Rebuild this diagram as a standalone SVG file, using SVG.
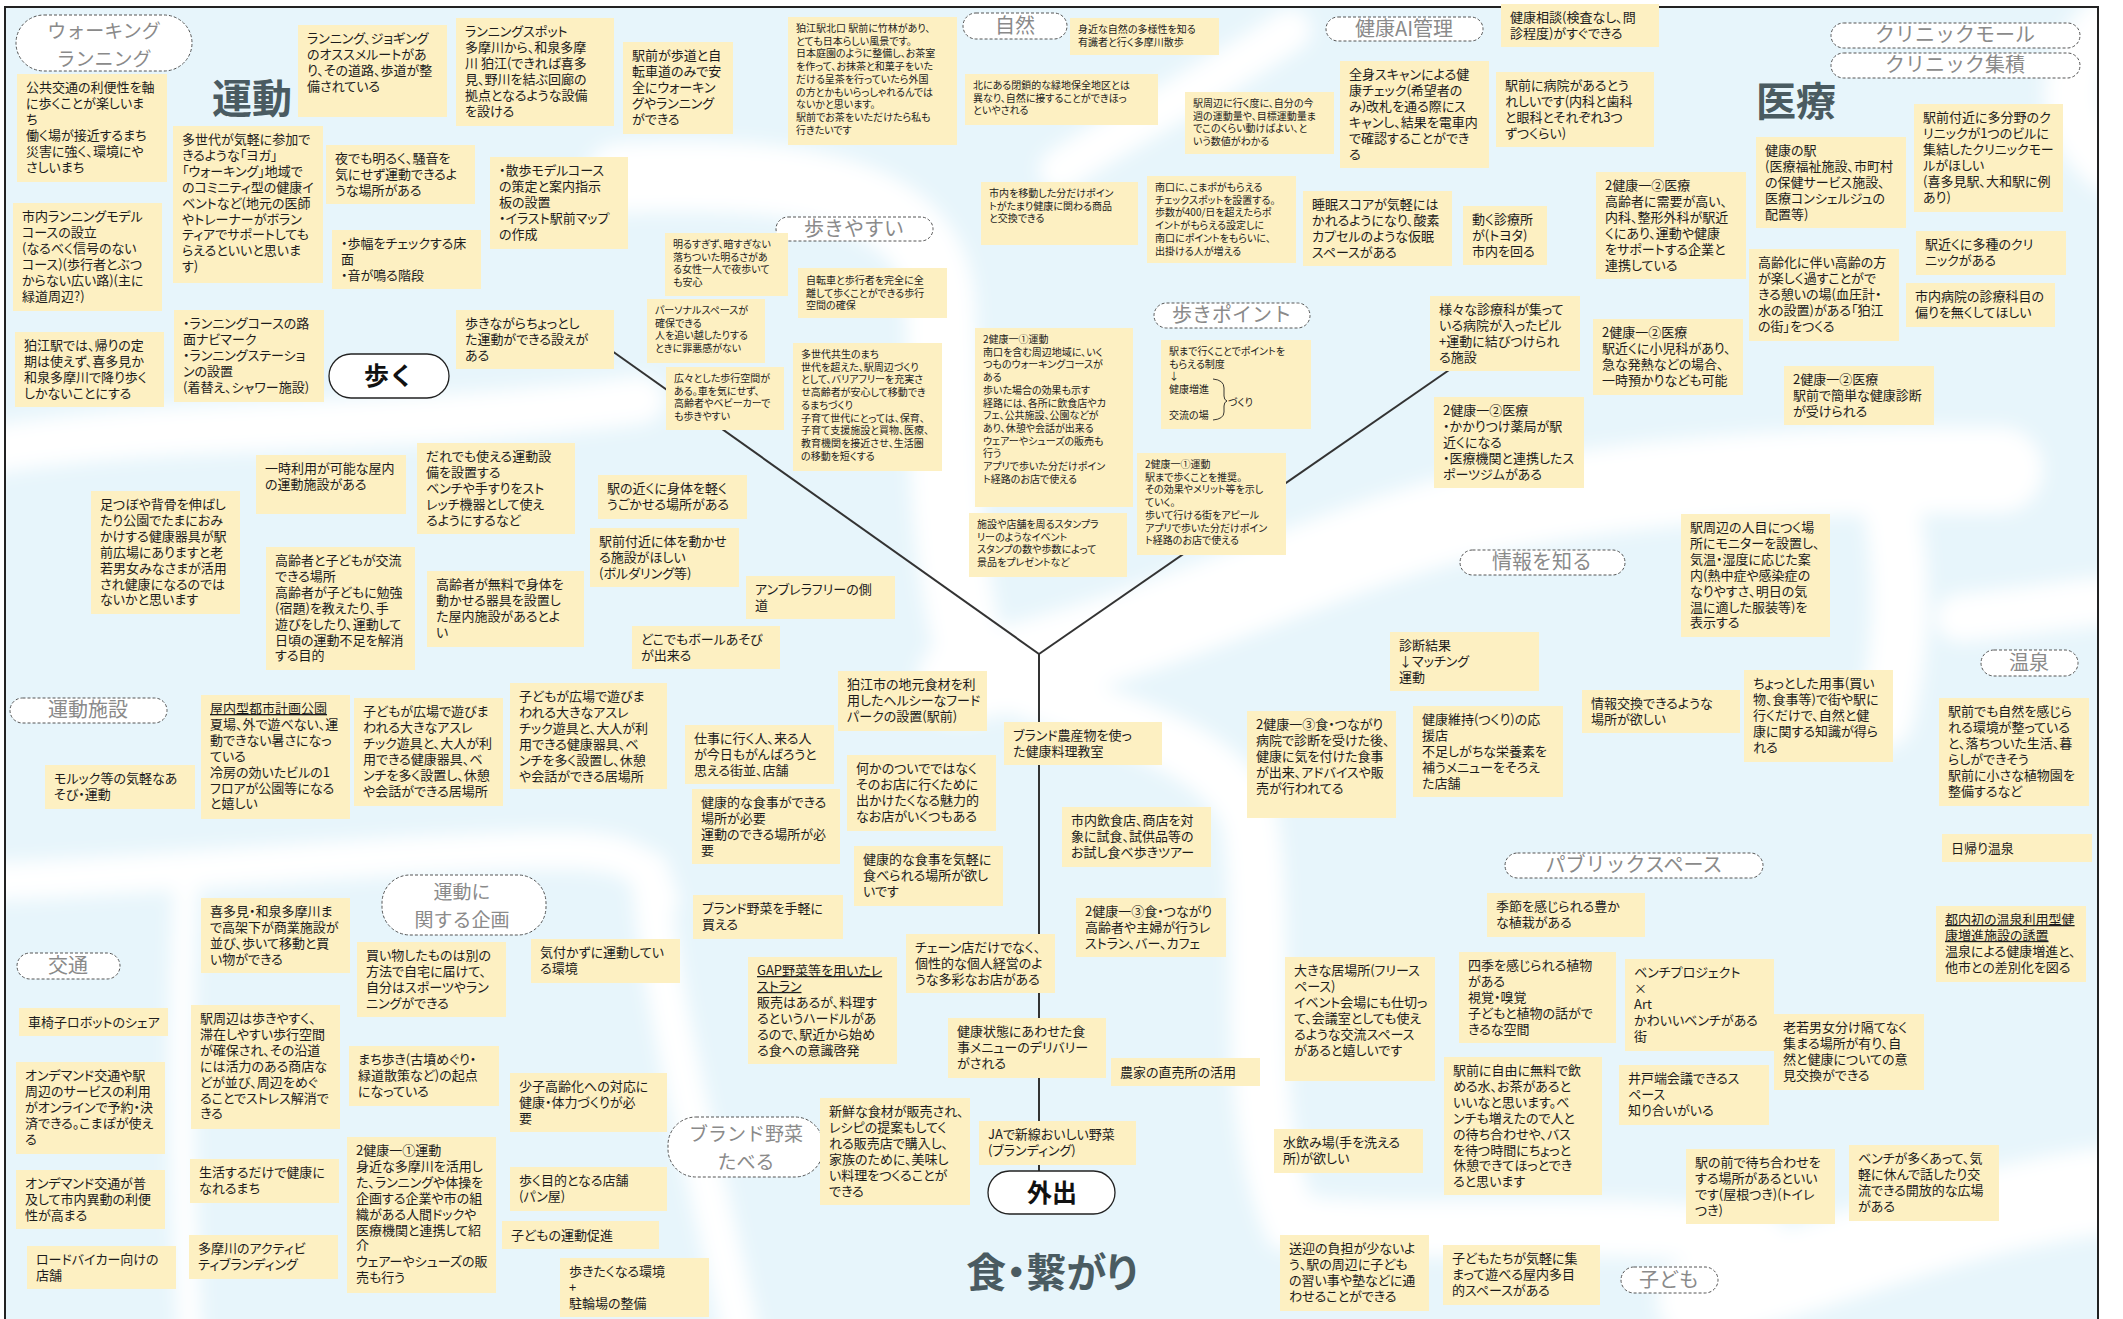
<svg xmlns="http://www.w3.org/2000/svg" width="2123" height="1319" viewBox="0 0 2123 1319">
<defs>
<style>
.note rect{fill:#fdf0c2}
.t{font-family:"Noto Sans CJK JP","Noto Sans",sans-serif;font-size:13px;fill:#1c1c1c;font-feature-settings:"palt"}
.s{font-family:"Noto Sans CJK JP","Noto Sans",sans-serif;font-size:10px;fill:#1c1c1c;font-feature-settings:"palt"}
.tag rect{fill:#fff;stroke:#555;stroke-width:1;stroke-dasharray:3 2}
.tag text{font-family:"Noto Sans CJK JP","Noto Sans",sans-serif;font-size:20px;fill:#8a8a8a;text-anchor:middle}
.tag text.two{font-size:19px}
.ttl{font-family:"Noto Sans CJK JP","Noto Sans",sans-serif;font-weight:bold;font-size:40px;fill:#4a5b61;text-anchor:middle;font-feature-settings:"palt"}
.hub rect{fill:#fff;stroke:#222;stroke-width:1.3}
.hub text{font-family:"Noto Sans CJK JP","Noto Sans",sans-serif;font-weight:bold;font-size:25px;fill:#111;text-anchor:middle}
.edge{stroke:#333;stroke-width:2;fill:none}
.u{text-decoration:underline}
</style>
<filter id="soft" x="-10%" y="-10%" width="120%" height="120%"><feGaussianBlur stdDeviation="9"/></filter>
<clipPath id="frameClip"><rect x="6" y="8" width="2091" height="1311"/></clipPath>
</defs>

<rect width="2123" height="1319" fill="#fff"/>

<!-- background wash with white streams -->
<g id="background" clip-path="url(#frameClip)">
<rect x="6" y="8" width="2091" height="1311" fill="#e7f5fb"/>
<g filter="url(#soft)" fill="none" stroke="#fff" stroke-linecap="round">
<path d="M-20 452 C150 420 400 432 640 400" stroke-width="48"/>
<path d="M620 178 C800 170 930 190 940 300 C945 400 940 520 965 630" stroke-width="70"/>
<path d="M960 680 C1150 640 1300 560 1450 520 C1600 480 1800 470 2000 470" stroke-width="86"/>
<path d="M1885 480 C1905 560 1905 640 1885 720" stroke-width="56"/>
<path d="M1000 680 C1100 720 1220 740 1250 820 C1270 950 1240 1100 1290 1222 C1400 1240 1600 1215 1760 1240" stroke-width="56"/>
<path d="M650 870 C660 1000 700 1150 740 1330" stroke-width="38"/>
<path d="M-10 882 C200 872 400 852 560 850 C620 850 650 860 660 900" stroke-width="38"/>
<path d="M186 890 C180 1000 180 1150 190 1330" stroke-width="24"/>
<path d="M1960 618 C2020 612 2070 604 2110 600" stroke-width="48"/>
<path d="M1700 1300 C1850 1260 1950 1210 2110 1190" stroke-width="86"/>
<path d="M2110 20 C2065 60 2055 120 2110 165" stroke-width="56"/>
<path d="M1290 30 C1200 90 1120 130 1060 170" stroke-width="42"/>
</g>
</g>

<!-- frame -->
<path d="M5 1319 V7 H2098 V1319" fill="none" stroke="#222" stroke-width="2"/>

<!-- connectors -->
<g id="connectors">
<path class="edge" d="M605 346 L1039 654"/>
<path class="edge" d="M1039 654 L1452 368"/>
<path class="edge" d="M1039 654 L1039 1172"/>
</g>

<!-- category titles -->
<text id="title-undou" class="ttl" x="252" y="113">運動</text>
<text id="title-iryou" class="ttl" x="1796" y="116">医療</text>
<text id="title-shoku" class="ttl" x="1052" y="1287">食・繋がり</text>

<!-- hubs -->
<g id="hub-aruku" class="hub"><rect x="329" y="354" width="120" height="44" rx="22"/><text x="389" y="385">歩く</text></g>
<g id="hub-gaishutsu" class="hub"><rect x="988" y="1171" width="127" height="43" rx="21.5"/><text x="1052" y="1202">外出</text></g>

<!-- tags -->
<g id="tag-walking" class="tag"><rect x="16" y="15" width="176" height="56" rx="28"/><text class="two" x="104" y="38">ウォーキング</text><text class="two" x="104" y="66">ランニング</text></g>
<g id="tag-shizen" class="tag"><rect x="963" y="13" width="104" height="26" rx="13"/><text x="1015" y="33">自然</text></g>
<g id="tag-ai" class="tag"><rect x="1326" y="17" width="157" height="24" rx="12"/><text x="1404" y="36">健康AI管理</text></g>
<g id="tag-mall" class="tag"><rect x="1831" y="23" width="249" height="25" rx="12.5"/><text x="1955" y="42">クリニックモール</text></g>
<g id="tag-shuseki" class="tag"><rect x="1831" y="53" width="249" height="25" rx="12.5"/><text x="1955" y="72">クリニック集積</text></g>
<g id="tag-aruki" class="tag"><rect x="776" y="217" width="157" height="24" rx="12"/><text x="854" y="236">歩きやすい</text></g>
<g id="tag-point" class="tag"><rect x="1154" y="303" width="156" height="25" rx="12.5"/><text x="1232" y="322">歩きポイント</text></g>
<g id="tag-joho" class="tag"><rect x="1460" y="550" width="165" height="25" rx="12.5"/><text x="1542" y="569">情報を知る</text></g>
<g id="tag-onsen" class="tag"><rect x="1981" y="650" width="97" height="26" rx="13"/><text x="2029" y="670">温泉</text></g>
<g id="tag-shisetsu" class="tag"><rect x="10" y="698" width="157" height="25" rx="12.5"/><text x="88" y="717">運動施設</text></g>
<g id="tag-kikaku" class="tag"><rect x="382" y="875" width="164" height="60" rx="28"/><text class="two" x="462" y="899">運動に</text><text class="two" x="462" y="927">関する企画</text></g>
<g id="tag-public" class="tag"><rect x="1505" y="853" width="258" height="25" rx="12.5"/><text x="1634" y="872">パブリックスペース</text></g>
<g id="tag-koutsu" class="tag"><rect x="17" y="953" width="103" height="26" rx="13"/><text x="68" y="973">交通</text></g>
<g id="tag-brand" class="tag"><rect x="668" y="1117" width="155" height="60" rx="28"/><text class="two" x="746" y="1141">ブランド野菜</text><text class="two" x="746" y="1169">たべる</text></g>
<g id="tag-kodomo" class="tag"><rect x="1621" y="1267" width="97" height="26" rx="13"/><text x="1669" y="1287">子ども</text></g>

<!-- notes: 運動 -->
<g id="n01" class="note"><rect x="17" y="74" width="150" height="108"/><text class="t" x="26" y="92"><tspan x="26">公共交通の利便性を軸</tspan><tspan x="26" dy="15.9">に歩くことが楽しいま</tspan><tspan x="26" dy="15.9">ち</tspan><tspan x="26" dy="15.9">働く場が接近するまち</tspan><tspan x="26" dy="15.9">災害に強く、環境にや</tspan><tspan x="26" dy="15.9">さしいまち</tspan></text></g>
<g id="n02" class="note"><rect x="298" y="25" width="149" height="92"/><text class="t" x="307" y="43"><tspan x="307">ランニング、ジョギング</tspan><tspan x="307" dy="15.9">のオススメルートがあ</tspan><tspan x="307" dy="15.9">り、その道路、歩道が整</tspan><tspan x="307" dy="15.9">備されている</tspan></text></g>
<g id="n03" class="note"><rect x="456" y="18" width="158" height="108"/><text class="t" x="465" y="36"><tspan x="465">ランニングスポット</tspan><tspan x="465" dy="15.9">多摩川から、和泉多摩</tspan><tspan x="465" dy="15.9">川 狛江(できれば喜多</tspan><tspan x="465" dy="15.9">見、野川を結ぶ回廊の</tspan><tspan x="465" dy="15.9">拠点となるような設備</tspan><tspan x="465" dy="15.9">を設ける</tspan></text></g>
<g id="n04" class="note"><rect x="623" y="42" width="110" height="92"/><text class="t" x="632" y="60"><tspan x="632">駅前が歩道と自</tspan><tspan x="632" dy="15.9">転車道のみで安</tspan><tspan x="632" dy="15.9">全にウォーキン</tspan><tspan x="632" dy="15.9">グやランニング</tspan><tspan x="632" dy="15.9">ができる</tspan></text></g>
<g id="n05" class="note"><rect x="173" y="126" width="150" height="157"/><text class="t" x="182" y="144"><tspan x="182">多世代が気軽に参加で</tspan><tspan x="182" dy="15.9">きるような「ヨガ」</tspan><tspan x="182" dy="15.9">「ウォーキング」地域で</tspan><tspan x="182" dy="15.9">のコミニティ型の健康イ</tspan><tspan x="182" dy="15.9">ベントなど(地元の医師</tspan><tspan x="182" dy="15.9">やトレーナーがボラン</tspan><tspan x="182" dy="15.9">ティアでサポートしても</tspan><tspan x="182" dy="15.9">らえるといいと思いま</tspan><tspan x="182" dy="15.9">す)</tspan></text></g>
<g id="n06" class="note"><rect x="326" y="145" width="149" height="59"/><text class="t" x="335" y="163"><tspan x="335">夜でも明るく、騒音を</tspan><tspan x="335" dy="15.9">気にせず運動できるよ</tspan><tspan x="335" dy="15.9">うな場所がある</tspan></text></g>
<g id="n07" class="note"><rect x="332" y="230" width="149" height="59"/><text class="t" x="341" y="248"><tspan x="341">・歩幅をチェックする床</tspan><tspan x="341" dy="15.9">面</tspan><tspan x="341" dy="15.9">・音が鳴る階段</tspan></text></g>
<g id="n08" class="note"><rect x="490" y="157" width="138" height="92"/><text class="t" x="499" y="175"><tspan x="499">・散歩モデルコース</tspan><tspan x="499" dy="15.9">の策定と案内指示</tspan><tspan x="499" dy="15.9">板の設置</tspan><tspan x="499" dy="15.9">・イラスト駅前マップ</tspan><tspan x="499" dy="15.9">の作成</tspan></text></g>
<g id="n09" class="note"><rect x="13" y="203" width="149" height="108"/><text class="t" x="22" y="221"><tspan x="22">市内ランニングモデル</tspan><tspan x="22" dy="15.9">コースの設立</tspan><tspan x="22" dy="15.9">(なるべく信号のない</tspan><tspan x="22" dy="15.9">コース)(歩行者とぶつ</tspan><tspan x="22" dy="15.9">からない広い路)(主に</tspan><tspan x="22" dy="15.9">緑道周辺?)</tspan></text></g>
<g id="n10" class="note"><rect x="15" y="332" width="149" height="75"/><text class="t" x="24" y="350"><tspan x="24">狛江駅では、帰りの定</tspan><tspan x="24" dy="15.9">期は使えず、喜多見か</tspan><tspan x="24" dy="15.9">和泉多摩川で降り歩く</tspan><tspan x="24" dy="15.9">しかないことにする</tspan></text></g>
<g id="n11" class="note"><rect x="174" y="310" width="150" height="92"/><text class="t" x="183" y="328"><tspan x="183">・ランニングコースの路</tspan><tspan x="183" dy="15.9">面ナビマーク</tspan><tspan x="183" dy="15.9">・ランニングステーショ</tspan><tspan x="183" dy="15.9">ンの設置</tspan><tspan x="183" dy="15.9">(着替え、シャワー施設)</tspan></text></g>
<g id="n12" class="note"><rect x="456" y="310" width="158" height="59"/><text class="t" x="465" y="328"><tspan x="465">歩きながらちょっとし</tspan><tspan x="465" dy="15.9">た運動ができる設えが</tspan><tspan x="465" dy="15.9">ある</tspan></text></g>
<g id="n13" class="note"><rect x="256" y="455" width="150" height="59"/><text class="t" x="265" y="473"><tspan x="265">一時利用が可能な屋内</tspan><tspan x="265" dy="15.9">の運動施設がある</tspan></text></g>
<g id="n14" class="note"><rect x="91" y="491" width="149" height="123"/><text class="t" x="100" y="509"><tspan x="100">足つぼや背骨を伸ばし</tspan><tspan x="100" dy="15.9">たり公園でたまにおみ</tspan><tspan x="100" dy="15.9">かけする健康器具が駅</tspan><tspan x="100" dy="15.9">前広場にありますと老</tspan><tspan x="100" dy="15.9">若男女みなさまが活用</tspan><tspan x="100" dy="15.9">され健康になるのでは</tspan><tspan x="100" dy="15.9">ないかと思います</tspan></text></g>
<g id="n15" class="note"><rect x="417" y="443" width="158" height="91"/><text class="t" x="426" y="461"><tspan x="426">だれでも使える運動設</tspan><tspan x="426" dy="15.9">備を設置する</tspan><tspan x="426" dy="15.9">ベンチや手すりをスト</tspan><tspan x="426" dy="15.9">レッチ機器として使え</tspan><tspan x="426" dy="15.9">るようにするなど</tspan></text></g>
<g id="n16" class="note"><rect x="266" y="547" width="149" height="123"/><text class="t" x="275" y="565"><tspan x="275">高齢者と子どもが交流</tspan><tspan x="275" dy="15.9">できる場所</tspan><tspan x="275" dy="15.9">高齢者が子どもに勉強</tspan><tspan x="275" dy="15.9">(宿題)を教えたり、手</tspan><tspan x="275" dy="15.9">遊びをしたり、運動して</tspan><tspan x="275" dy="15.9">日頃の運動不足を解消</tspan><tspan x="275" dy="15.9">する目的</tspan></text></g>
<g id="n17" class="note"><rect x="427" y="571" width="157" height="76"/><text class="t" x="436" y="589"><tspan x="436">高齢者が無料で身体を</tspan><tspan x="436" dy="15.9">動かせる器具を設置し</tspan><tspan x="436" dy="15.9">た屋内施設があるとよ</tspan><tspan x="436" dy="15.9">い</tspan></text></g>
<g id="n18" class="note"><rect x="598" y="475" width="149" height="44"/><text class="t" x="607" y="493"><tspan x="607">駅の近くに身体を軽く</tspan><tspan x="607" dy="15.9">うごかせる場所がある</tspan></text></g>
<g id="n19" class="note"><rect x="590" y="528" width="149" height="59"/><text class="t" x="599" y="546"><tspan x="599">駅前付近に体を動かせ</tspan><tspan x="599" dy="15.9">る施設がほしい</tspan><tspan x="599" dy="15.9">(ボルダリング等)</tspan></text></g>
<g id="n20" class="note"><rect x="746" y="576" width="149" height="43"/><text class="t" x="755" y="594"><tspan x="755">アンブレラフリーの側</tspan><tspan x="755" dy="15.9">道</tspan></text></g>
<g id="n21" class="note"><rect x="632" y="626" width="148" height="43"/><text class="t" x="641" y="644"><tspan x="641">どこでもボールあそび</tspan><tspan x="641" dy="15.9">が出来る</tspan></text></g>
<g id="n22" class="note"><rect x="45" y="765" width="150" height="44"/><text class="t" x="54" y="783"><tspan x="54">モルック等の気軽なあ</tspan><tspan x="54" dy="15.9">そび・運動</tspan></text></g>
<g id="n23" class="note"><rect x="201" y="695" width="149" height="124"/><text class="t" x="210" y="713"><tspan x="210" class="u">屋内型都市計画公園</tspan><tspan x="210" dy="15.9">夏場、外で遊べない、運</tspan><tspan x="210" dy="15.9">動できない暑さになっ</tspan><tspan x="210" dy="15.9">ている</tspan><tspan x="210" dy="15.9">冷房の効いたビルの1</tspan><tspan x="210" dy="15.9">フロアが公園等になる</tspan><tspan x="210" dy="15.9">と嬉しい</tspan></text></g>
<g id="n24" class="note"><rect x="354" y="698" width="149" height="108"/><text class="t" x="363" y="716"><tspan x="363">子どもが広場で遊びま</tspan><tspan x="363" dy="15.9">われる大きなアスレ</tspan><tspan x="363" dy="15.9">チック遊具と、大人が利</tspan><tspan x="363" dy="15.9">用できる健康器具、ベ</tspan><tspan x="363" dy="15.9">ンチを多く設置し、休憩</tspan><tspan x="363" dy="15.9">や会話ができる居場所</tspan></text></g>
<g id="n25" class="note"><rect x="510" y="683" width="157" height="106"/><text class="t" x="519" y="701"><tspan x="519">子どもが広場で遊びま</tspan><tspan x="519" dy="15.9">われる大きなアスレ</tspan><tspan x="519" dy="15.9">チック遊具と、大人が利</tspan><tspan x="519" dy="15.9">用できる健康器具、ベ</tspan><tspan x="519" dy="15.9">ンチを多く設置し、休憩</tspan><tspan x="519" dy="15.9">や会話ができる居場所</tspan></text></g>

<!-- notes: 歩きやすい / 自然 / 歩きポイント (small print) -->
<g id="n26" class="note"><rect x="665" y="233" width="123" height="63"/><text class="s" x="673" y="248"><tspan x="673">明るすぎず、暗すぎない</tspan><tspan x="673" dy="12.7">落ちついた明るさがあ</tspan><tspan x="673" dy="12.7">る女性一人で夜歩いて</tspan><tspan x="673" dy="12.7">も安心</tspan></text></g>
<g id="n27" class="note"><rect x="647" y="299" width="118" height="64"/><text class="s" x="655" y="314"><tspan x="655">パーソナルスペースが</tspan><tspan x="655" dy="12.7">確保できる</tspan><tspan x="655" dy="12.7">人を追い越したりする</tspan><tspan x="655" dy="12.7">ときに罪悪感がない</tspan></text></g>
<g id="n28" class="note"><rect x="666" y="367" width="118" height="63"/><text class="s" x="674" y="382"><tspan x="674">広々とした歩行空間が</tspan><tspan x="674" dy="12.7">ある。車を気にせず、</tspan><tspan x="674" dy="12.7">高齢者やベビーカーで</tspan><tspan x="674" dy="12.7">も歩きやすい</tspan></text></g>
<g id="n29" class="note"><rect x="798" y="268" width="149" height="50"/><text class="s" x="806" y="284"><tspan x="806">自転車と歩行者を完全に全</tspan><tspan x="806" dy="12.7">離して歩くことができる歩行</tspan><tspan x="806" dy="12.7">空間の確保</tspan></text></g>
<g id="n30" class="note"><rect x="793" y="343" width="149" height="128"/><text class="s" x="801" y="358"><tspan x="801">多世代共生のまち</tspan><tspan x="801" dy="12.7">世代を超えた、駅周辺づくり</tspan><tspan x="801" dy="12.7">として、バリアフリーを充実さ</tspan><tspan x="801" dy="12.7">せ高齢者が安心して移動でき</tspan><tspan x="801" dy="12.7">るまちづくり</tspan><tspan x="801" dy="12.7">子育て世代にとっては、保育、</tspan><tspan x="801" dy="12.7">子育て支援施設と買物、医療、</tspan><tspan x="801" dy="12.7">教育機関を接近させ、生活圏</tspan><tspan x="801" dy="12.7">の移動を短くする</tspan></text></g>
<g id="n31" class="note"><rect x="788" y="17" width="169" height="128"/><text class="s" x="796" y="32"><tspan x="796">狛江駅北口 駅前に竹林があり、</tspan><tspan x="796" dy="12.7">とても日本らしい風景です。</tspan><tspan x="796" dy="12.7">日本庭園のように整備し、お茶室</tspan><tspan x="796" dy="12.7">を作って、お抹茶と和菓子をいた</tspan><tspan x="796" dy="12.7">だける呈茶を行っていたら外国</tspan><tspan x="796" dy="12.7">の方とかもいらっしゃれるんでは</tspan><tspan x="796" dy="12.7">ないかと思います。</tspan><tspan x="796" dy="12.7">駅前でお茶をいただけたら私も</tspan><tspan x="796" dy="12.7">行きたいです</tspan></text></g>
<g id="n32" class="note"><rect x="965" y="74" width="193" height="51"/><text class="s" x="973" y="89"><tspan x="973">北にある閉鎖的な緑地保全地区とは</tspan><tspan x="973" dy="12.7">異なり、自然に接することができほっ</tspan><tspan x="973" dy="12.7">といやされる</tspan></text></g>
<g id="n33" class="note"><rect x="1070" y="18" width="149" height="37"/><text class="s" x="1078" y="33"><tspan x="1078">身近な自然の多様性を知る</tspan><tspan x="1078" dy="12.7">有識者と行く多摩川散歩</tspan></text></g>
<g id="n34" class="note"><rect x="981" y="182" width="157" height="63"/><text class="s" x="989" y="197"><tspan x="989">市内を移動した分だけポイン</tspan><tspan x="989" dy="12.7">トがたまり健康に関わる商品</tspan><tspan x="989" dy="12.7">と交換できる</tspan></text></g>
<g id="n35" class="note"><rect x="975" y="328" width="158" height="179"/><text class="s" x="983" y="343"><tspan x="983">2健康一①運動</tspan><tspan x="983" dy="12.7">南口を含む周辺地域に、いく</tspan><tspan x="983" dy="12.7">つものウォーキングコースが</tspan><tspan x="983" dy="12.7">ある</tspan><tspan x="983" dy="12.7">歩いた場合の効果も示す</tspan><tspan x="983" dy="12.7">経路には、各所に飲食店やカ</tspan><tspan x="983" dy="12.7">フェ、公共施設、公園などが</tspan><tspan x="983" dy="12.7">あり、休憩や会話が出来る</tspan><tspan x="983" dy="12.7">ウェアーやシューズの販売も</tspan><tspan x="983" dy="12.7">行う</tspan><tspan x="983" dy="12.7">アプリで歩いた分だけポイン</tspan><tspan x="983" dy="12.7">ト経路のお店で使える</tspan></text></g>
<g id="n36" class="note"><rect x="969" y="513" width="158" height="64"/><text class="s" x="977" y="528"><tspan x="977">施設や店舗を周るスタンプラ</tspan><tspan x="977" dy="12.7">リーのようなイベント</tspan><tspan x="977" dy="12.7">スタンプの数や歩数によって</tspan><tspan x="977" dy="12.7">景品をプレゼントなど</tspan></text></g>
<g id="n37" class="note"><rect x="1185" y="92" width="149" height="62"/><text class="s" x="1193" y="107"><tspan x="1193">駅周辺に行く度に、自分の今</tspan><tspan x="1193" dy="12.7">週の運動量や、目標運動量ま</tspan><tspan x="1193" dy="12.7">でこのくらい動けばよい、と</tspan><tspan x="1193" dy="12.7">いう数値がわかる</tspan></text></g>
<g id="n38" class="note"><rect x="1147" y="176" width="149" height="87"/><text class="s" x="1155" y="191"><tspan x="1155">南口に、こまポがもらえる</tspan><tspan x="1155" dy="12.7">チェックスポットを設置する。</tspan><tspan x="1155" dy="12.7">歩数が400/日を超えたらポ</tspan><tspan x="1155" dy="12.7">イントがもらえる設定しに</tspan><tspan x="1155" dy="12.7">南口にポイントをもらいに、</tspan><tspan x="1155" dy="12.7">出掛ける人が増える</tspan></text></g>
<g id="n39" class="note"><rect x="1161" y="340" width="150" height="89"/><text class="s" x="1169" y="355"><tspan x="1169">駅まで行くことでポイントを</tspan><tspan x="1169" dy="12.7">もらえる制度</tspan><tspan x="1169" dy="12.7">↓</tspan><tspan x="1169" y="393">健康増進</tspan><tspan x="1169" y="419">交流の場</tspan><tspan x="1228" y="406">づくり</tspan></text><path d="M1213 379 Q1224 380 1224 388 L1224 396 Q1224 400 1227 401 Q1224 402 1224 406 L1224 412 Q1224 419 1213 420" fill="none" stroke="#222" stroke-width="0.9"/></g>
<g id="n40" class="note"><rect x="1137" y="453" width="149" height="102"/><text class="s" x="1145" y="468"><tspan x="1145">2健康一①運動</tspan><tspan x="1145" dy="12.7">駅まで歩くことを推奨。</tspan><tspan x="1145" dy="12.7">その効果やメリット等を示し</tspan><tspan x="1145" dy="12.7">ていく。</tspan><tspan x="1145" dy="12.7">歩いて行ける街をアピール</tspan><tspan x="1145" dy="12.7">アプリで歩いた分だけポイン</tspan><tspan x="1145" dy="12.7">ト経路のお店で使える</tspan></text></g>

<!-- notes: 医療 / 健康AI管理 -->
<g id="n41" class="note"><rect x="1501" y="4" width="158" height="43"/><text class="t" x="1510" y="22"><tspan x="1510">健康相談(検査なし、問</tspan><tspan x="1510" dy="15.9">診程度)がすぐできる</tspan></text></g>
<g id="n42" class="note"><rect x="1340" y="61" width="149" height="107"/><text class="t" x="1349" y="79"><tspan x="1349">全身スキャンによる健</tspan><tspan x="1349" dy="15.9">康チェック(希望者の</tspan><tspan x="1349" dy="15.9">み)改札を通る際にス</tspan><tspan x="1349" dy="15.9">キャンし、結果を電車内</tspan><tspan x="1349" dy="15.9">で確認することができ</tspan><tspan x="1349" dy="15.9">る</tspan></text></g>
<g id="n43" class="note"><rect x="1496" y="72" width="158" height="75"/><text class="t" x="1505" y="90"><tspan x="1505">駅前に病院があるとう</tspan><tspan x="1505" dy="15.9">れしいです(内科と歯科</tspan><tspan x="1505" dy="15.9">と眼科とそれぞれ3つ</tspan><tspan x="1505" dy="15.9">ずつくらい)</tspan></text></g>
<g id="n44" class="note"><rect x="1303" y="191" width="149" height="75"/><text class="t" x="1312" y="209"><tspan x="1312">睡眠スコアが気軽には</tspan><tspan x="1312" dy="15.9">かれるようになり、酸素</tspan><tspan x="1312" dy="15.9">カプセルのような仮眠</tspan><tspan x="1312" dy="15.9">スペースがある</tspan></text></g>
<g id="n45" class="note"><rect x="1463" y="206" width="84" height="59"/><text class="t" x="1472" y="224"><tspan x="1472">動く診療所</tspan><tspan x="1472" dy="15.9">が(トヨタ)</tspan><tspan x="1472" dy="15.9">市内を回る</tspan></text></g>
<g id="n46" class="note"><rect x="1430" y="296" width="150" height="75"/><text class="t" x="1439" y="314"><tspan x="1439">様々な診療科が集って</tspan><tspan x="1439" dy="15.9">いる病院が入ったビル</tspan><tspan x="1439" dy="15.9">+運動に結びつけられ</tspan><tspan x="1439" dy="15.9">る施設</tspan></text></g>
<g id="n47" class="note"><rect x="1434" y="397" width="150" height="91"/><text class="t" x="1443" y="415"><tspan x="1443">2健康一②医療</tspan><tspan x="1443" dy="15.9">・かかりつけ薬局が駅</tspan><tspan x="1443" dy="15.9">近くになる</tspan><tspan x="1443" dy="15.9">・医療機関と連携したス</tspan><tspan x="1443" dy="15.9">ポーツジムがある</tspan></text></g>
<g id="n48" class="note"><rect x="1914" y="104" width="149" height="108"/><text class="t" x="1923" y="122"><tspan x="1923">駅前付近に多分野のク</tspan><tspan x="1923" dy="15.9">リニックが1つのビルに</tspan><tspan x="1923" dy="15.9">集結したクリニックモー</tspan><tspan x="1923" dy="15.9">ルがほしい</tspan><tspan x="1923" dy="15.9">(喜多見駅、大和駅に例</tspan><tspan x="1923" dy="15.9">あり)</tspan></text></g>
<g id="n49" class="note"><rect x="1756" y="137" width="150" height="91"/><text class="t" x="1765" y="155"><tspan x="1765">健康の駅</tspan><tspan x="1765" dy="15.9">(医療福祉施設、市町村</tspan><tspan x="1765" dy="15.9">の保健サービス施設、</tspan><tspan x="1765" dy="15.9">医療コンシェルジュの</tspan><tspan x="1765" dy="15.9">配置等)</tspan></text></g>
<g id="n50" class="note"><rect x="1596" y="172" width="150" height="107"/><text class="t" x="1605" y="190"><tspan x="1605">2健康一②医療</tspan><tspan x="1605" dy="15.9">高齢者に需要が高い、</tspan><tspan x="1605" dy="15.9">内科、整形外科が駅近</tspan><tspan x="1605" dy="15.9">くにあり、運動や健康</tspan><tspan x="1605" dy="15.9">をサポートする企業と</tspan><tspan x="1605" dy="15.9">連携している</tspan></text></g>
<g id="n51" class="note"><rect x="1916" y="231" width="150" height="44"/><text class="t" x="1925" y="249"><tspan x="1925">駅近くに多種のクリ</tspan><tspan x="1925" dy="15.9">ニックがある</tspan></text></g>
<g id="n52" class="note"><rect x="1749" y="249" width="150" height="92"/><text class="t" x="1758" y="267"><tspan x="1758">高齢化に伴い高齢の方</tspan><tspan x="1758" dy="15.9">が楽しく過すことがで</tspan><tspan x="1758" dy="15.9">きる憩いの場(血圧計・</tspan><tspan x="1758" dy="15.9">水の設置)がある「狛江</tspan><tspan x="1758" dy="15.9">の街」をつくる</tspan></text></g>
<g id="n53" class="note"><rect x="1906" y="283" width="149" height="44"/><text class="t" x="1915" y="301"><tspan x="1915">市内病院の診療科目の</tspan><tspan x="1915" dy="15.9">偏りを無くしてほしい</tspan></text></g>
<g id="n54" class="note"><rect x="1593" y="319" width="150" height="76"/><text class="t" x="1602" y="337"><tspan x="1602">2健康一②医療</tspan><tspan x="1602" dy="15.9">駅近くに小児科があり、</tspan><tspan x="1602" dy="15.9">急な発熱などの場合、</tspan><tspan x="1602" dy="15.9">一時預かりなども可能</tspan></text></g>
<g id="n55" class="note"><rect x="1784" y="366" width="150" height="59"/><text class="t" x="1793" y="384"><tspan x="1793">2健康一②医療</tspan><tspan x="1793" dy="15.9">駅前で簡単な健康診断</tspan><tspan x="1793" dy="15.9">が受けられる</tspan></text></g>

<!-- notes: 情報を知る / 温泉 -->
<g id="n56" class="note"><rect x="1681" y="514" width="149" height="123"/><text class="t" x="1690" y="532"><tspan x="1690">駅周辺の人目につく場</tspan><tspan x="1690" dy="15.9">所にモニターを設置し、</tspan><tspan x="1690" dy="15.9">気温・湿度に応じた案</tspan><tspan x="1690" dy="15.9">内(熱中症や感染症の</tspan><tspan x="1690" dy="15.9">なりやすさ、明日の気</tspan><tspan x="1690" dy="15.9">温に適した服装等)を</tspan><tspan x="1690" dy="15.9">表示する</tspan></text></g>
<g id="n57" class="note"><rect x="1390" y="632" width="149" height="59"/><text class="t" x="1399" y="650"><tspan x="1399">診断結果</tspan><tspan x="1399" dy="15.9">↓マッチング</tspan><tspan x="1399" dy="15.9">運動</tspan></text></g>
<g id="n58" class="note"><rect x="1582" y="690" width="158" height="43"/><text class="t" x="1591" y="708"><tspan x="1591">情報交換できるような</tspan><tspan x="1591" dy="15.9">場所が欲しい</tspan></text></g>
<g id="n59" class="note"><rect x="1744" y="670" width="149" height="92"/><text class="t" x="1753" y="688"><tspan x="1753">ちょっとした用事(買い</tspan><tspan x="1753" dy="15.9">物、食事等)で街や駅に</tspan><tspan x="1753" dy="15.9">行くだけで、自然と健</tspan><tspan x="1753" dy="15.9">康に関する知識が得ら</tspan><tspan x="1753" dy="15.9">れる</tspan></text></g>
<g id="n60" class="note"><rect x="1247" y="711" width="149" height="107"/><text class="t" x="1256" y="729"><tspan x="1256">2健康一③食・つながり</tspan><tspan x="1256" dy="15.9">病院で診断を受けた後、</tspan><tspan x="1256" dy="15.9">健康に気を付けた食事</tspan><tspan x="1256" dy="15.9">が出来、アドバイスや販</tspan><tspan x="1256" dy="15.9">売が行われてる</tspan></text></g>
<g id="n61" class="note"><rect x="1413" y="706" width="150" height="91"/><text class="t" x="1422" y="724"><tspan x="1422">健康維持(つくり)の応</tspan><tspan x="1422" dy="15.9">援店</tspan><tspan x="1422" dy="15.9">不足しがちな栄養素を</tspan><tspan x="1422" dy="15.9">補うメニューをそろえ</tspan><tspan x="1422" dy="15.9">た店舗</tspan></text></g>
<g id="n62" class="note"><rect x="1939" y="698" width="150" height="108"/><text class="t" x="1948" y="716"><tspan x="1948">駅前でも自然を感じら</tspan><tspan x="1948" dy="15.9">れる環境が整っている</tspan><tspan x="1948" dy="15.9">と、落ちついた生活、暮</tspan><tspan x="1948" dy="15.9">らしができそう</tspan><tspan x="1948" dy="15.9">駅前に小さな植物園を</tspan><tspan x="1948" dy="15.9">整備するなど</tspan></text></g>
<g id="n63" class="note"><rect x="1942" y="834" width="150" height="28"/><text class="t" x="1951" y="853">日帰り温泉</text></g>
<g id="n64" class="note"><rect x="1936" y="906" width="150" height="76"/><text class="t" x="1945" y="924"><tspan x="1945" class="u">都内初の温泉利用型健</tspan><tspan x="1945" dy="15.9" class="u">康増進施設の誘置</tspan><tspan x="1945" dy="15.9">温泉による健康増進と、</tspan><tspan x="1945" dy="15.9">他市との差別化を図る</tspan></text></g>

<!-- notes: 食・繋がり -->
<g id="n65" class="note"><rect x="838" y="671" width="149" height="60"/><text class="t" x="847" y="689"><tspan x="847">狛江市の地元食材を利</tspan><tspan x="847" dy="15.9">用したヘルシーなフード</tspan><tspan x="847" dy="15.9">パークの設置(駅前)</tspan></text></g>
<g id="n66" class="note"><rect x="685" y="725" width="149" height="59"/><text class="t" x="694" y="743"><tspan x="694">仕事に行く人、来る人</tspan><tspan x="694" dy="15.9">が今日もがんばろうと</tspan><tspan x="694" dy="15.9">思える街並、店舗</tspan></text></g>
<g id="n67" class="note"><rect x="692" y="789" width="148" height="75"/><text class="t" x="701" y="807"><tspan x="701">健康的な食事ができる</tspan><tspan x="701" dy="15.9">場所が必要</tspan><tspan x="701" dy="15.9">運動のできる場所が必</tspan><tspan x="701" dy="15.9">要</tspan></text></g>
<g id="n68" class="note"><rect x="847" y="755" width="149" height="76"/><text class="t" x="856" y="773"><tspan x="856">何かのついでではなく</tspan><tspan x="856" dy="15.9">そのお店に行くために</tspan><tspan x="856" dy="15.9">出かけたくなる魅力的</tspan><tspan x="856" dy="15.9">なお店がいくつもある</tspan></text></g>
<g id="n69" class="note"><rect x="854" y="846" width="149" height="60"/><text class="t" x="863" y="864"><tspan x="863">健康的な食事を気軽に</tspan><tspan x="863" dy="15.9">食べられる場所が欲し</tspan><tspan x="863" dy="15.9">いです</tspan></text></g>
<g id="n70" class="note"><rect x="1004" y="722" width="158" height="43"/><text class="t" x="1013" y="740"><tspan x="1013">ブランド農産物を使っ</tspan><tspan x="1013" dy="15.9">た健康料理教室</tspan></text></g>
<g id="n71" class="note"><rect x="1062" y="807" width="149" height="60"/><text class="t" x="1071" y="825"><tspan x="1071">市内飲食店、商店を対</tspan><tspan x="1071" dy="15.9">象に試食、試供品等の</tspan><tspan x="1071" dy="15.9">お試し食べ歩きツアー</tspan></text></g>
<g id="n72" class="note"><rect x="693" y="895" width="150" height="44"/><text class="t" x="702" y="913"><tspan x="702">ブランド野菜を手軽に</tspan><tspan x="702" dy="15.9">買える</tspan></text></g>
<g id="n73" class="note"><rect x="748" y="957" width="149" height="107"/><text class="t" x="757" y="975"><tspan x="757" class="u">GAP野菜等を用いたレ</tspan><tspan x="757" dy="15.9" class="u">ストラン</tspan><tspan x="757" dy="15.9">販売はあるが、料理す</tspan><tspan x="757" dy="15.9">るというハードルがあ</tspan><tspan x="757" dy="15.9">るので、駅近から始め</tspan><tspan x="757" dy="15.9">る食への意識啓発</tspan></text></g>
<g id="n74" class="note"><rect x="906" y="934" width="149" height="59"/><text class="t" x="915" y="952"><tspan x="915">チェーン店だけでなく、</tspan><tspan x="915" dy="15.9">個性的な個人経営のよ</tspan><tspan x="915" dy="15.9">うな多彩なお店がある</tspan></text></g>
<g id="n75" class="note"><rect x="1076" y="898" width="150" height="59"/><text class="t" x="1085" y="916"><tspan x="1085">2健康一③食・つながり</tspan><tspan x="1085" dy="15.9">高齢者や主婦が行うレ</tspan><tspan x="1085" dy="15.9">ストラン、バー、カフェ</tspan></text></g>
<g id="n76" class="note"><rect x="948" y="1018" width="158" height="60"/><text class="t" x="957" y="1036"><tspan x="957">健康状態にあわせた食</tspan><tspan x="957" dy="15.9">事メニューのデリバリー</tspan><tspan x="957" dy="15.9">がされる</tspan></text></g>
<g id="n77" class="note"><rect x="1111" y="1058" width="149" height="28"/><text class="t" x="1120" y="1077">農家の直売所の活用</text></g>
<g id="n78" class="note"><rect x="820" y="1098" width="150" height="107"/><text class="t" x="829" y="1116"><tspan x="829">新鮮な食材が販売され、</tspan><tspan x="829" dy="15.9">レシピの提案もしてく</tspan><tspan x="829" dy="15.9">れる販売店で購入し、</tspan><tspan x="829" dy="15.9">家族のために、美味し</tspan><tspan x="829" dy="15.9">い料理をつくることが</tspan><tspan x="829" dy="15.9">できる</tspan></text></g>
<g id="n79" class="note"><rect x="979" y="1121" width="157" height="44"/><text class="t" x="988" y="1139"><tspan x="988">JAで新線おいしい野菜</tspan><tspan x="988" dy="15.9">(ブランディング)</tspan></text></g>

<!-- notes: 運動に関する企画 -->
<g id="n80" class="note"><rect x="201" y="898" width="149" height="75"/><text class="t" x="210" y="916"><tspan x="210">喜多見・和泉多摩川ま</tspan><tspan x="210" dy="15.9">で高架下が商業施設が</tspan><tspan x="210" dy="15.9">並び、歩いて移動と買</tspan><tspan x="210" dy="15.9">い物ができる</tspan></text></g>
<g id="n81" class="note"><rect x="357" y="942" width="149" height="75"/><text class="t" x="366" y="960"><tspan x="366">買い物したものは別の</tspan><tspan x="366" dy="15.9">方法で自宅に届けて、</tspan><tspan x="366" dy="15.9">自分はスポーツやラン</tspan><tspan x="366" dy="15.9">ニングができる</tspan></text></g>
<g id="n82" class="note"><rect x="531" y="939" width="149" height="44"/><text class="t" x="540" y="957"><tspan x="540">気付かずに運動してい</tspan><tspan x="540" dy="15.9">る環境</tspan></text></g>
<g id="n83" class="note"><rect x="191" y="1005" width="149" height="124"/><text class="t" x="200" y="1023"><tspan x="200">駅周辺は歩きやすく、</tspan><tspan x="200" dy="15.9">滞在しやすい歩行空間</tspan><tspan x="200" dy="15.9">が確保され、その沿道</tspan><tspan x="200" dy="15.9">には活力のある商店な</tspan><tspan x="200" dy="15.9">どが並び、周辺をめぐ</tspan><tspan x="200" dy="15.9">ることでストレス解消で</tspan><tspan x="200" dy="15.9">きる</tspan></text></g>
<g id="n84" class="note"><rect x="349" y="1046" width="150" height="60"/><text class="t" x="358" y="1064"><tspan x="358">まち歩き(古墳めぐり・</tspan><tspan x="358" dy="15.9">緑道散策など)の起点</tspan><tspan x="358" dy="15.9">になっている</tspan></text></g>
<g id="n85" class="note"><rect x="510" y="1073" width="157" height="59"/><text class="t" x="519" y="1091"><tspan x="519">少子高齢化への対応に</tspan><tspan x="519" dy="15.9">健康・体力づくりが必</tspan><tspan x="519" dy="15.9">要</tspan></text></g>
<g id="n86" class="note"><rect x="190" y="1159" width="149" height="44"/><text class="t" x="199" y="1177"><tspan x="199">生活するだけで健康に</tspan><tspan x="199" dy="15.9">なれるまち</tspan></text></g>
<g id="n87" class="note"><rect x="347" y="1137" width="149" height="156"/><text class="t" x="356" y="1155"><tspan x="356">2健康一①運動</tspan><tspan x="356" dy="15.9">身近な多摩川を活用し</tspan><tspan x="356" dy="15.9">た、ランニングや体操を</tspan><tspan x="356" dy="15.9">企画する企業や市の組</tspan><tspan x="356" dy="15.9">織がある人間ドックや</tspan><tspan x="356" dy="15.9">医療機関と連携して紹</tspan><tspan x="356" dy="15.9">介</tspan><tspan x="356" dy="15.9">ウェアーやシューズの販</tspan><tspan x="356" dy="15.9">売も行う</tspan></text></g>
<g id="n88" class="note"><rect x="189" y="1235" width="149" height="44"/><text class="t" x="198" y="1253"><tspan x="198">多摩川のアクティビ</tspan><tspan x="198" dy="15.9">ティブランディング</tspan></text></g>
<g id="n89" class="note"><rect x="510" y="1167" width="157" height="44"/><text class="t" x="519" y="1185"><tspan x="519">歩く目的となる店舗</tspan><tspan x="519" dy="15.9">(パン屋)</tspan></text></g>
<g id="n90" class="note"><rect x="502" y="1221" width="157" height="28"/><text class="t" x="511" y="1240">子どもの運動促進</text></g>
<g id="n91" class="note"><rect x="560" y="1258" width="149" height="59"/><text class="t" x="569" y="1276"><tspan x="569">歩きたくなる環境</tspan><tspan x="569" dy="15.9">+</tspan><tspan x="569" dy="15.9">駐輪場の整備</tspan></text></g>

<!-- notes: 交通 -->
<g id="n92" class="note"><rect x="19" y="1008" width="149" height="28"/><text class="t" x="28" y="1027">車椅子ロボットのシェア</text></g>
<g id="n93" class="note"><rect x="16" y="1062" width="149" height="92"/><text class="t" x="25" y="1080"><tspan x="25">オンデマンド交通や駅</tspan><tspan x="25" dy="15.9">周辺のサービスの利用</tspan><tspan x="25" dy="15.9">がオンラインで予約・決</tspan><tspan x="25" dy="15.9">済できる。こまぽが使え</tspan><tspan x="25" dy="15.9">る</tspan></text></g>
<g id="n94" class="note"><rect x="16" y="1170" width="149" height="59"/><text class="t" x="25" y="1188"><tspan x="25">オンデマンド交通が普</tspan><tspan x="25" dy="15.9">及して市内異動の利便</tspan><tspan x="25" dy="15.9">性が高まる</tspan></text></g>
<g id="n95" class="note"><rect x="27" y="1246" width="149" height="43"/><text class="t" x="36" y="1264"><tspan x="36">ロードバイカー向けの</tspan><tspan x="36" dy="15.9">店舗</tspan></text></g>

<!-- notes: パブリックスペース / 子ども -->
<g id="n96" class="note"><rect x="1285" y="957" width="150" height="124"/><text class="t" x="1294" y="975"><tspan x="1294">大きな居場所(フリース</tspan><tspan x="1294" dy="15.9">ペース)</tspan><tspan x="1294" dy="15.9">イベント会場にも仕切っ</tspan><tspan x="1294" dy="15.9">て、会議室としても使え</tspan><tspan x="1294" dy="15.9">るような交流スペース</tspan><tspan x="1294" dy="15.9">があると嬉しいです</tspan></text></g>
<g id="n97" class="note"><rect x="1487" y="893" width="158" height="44"/><text class="t" x="1496" y="911"><tspan x="1496">季節を感じられる豊か</tspan><tspan x="1496" dy="15.9">な植栽がある</tspan></text></g>
<g id="n98" class="note"><rect x="1459" y="952" width="157" height="91"/><text class="t" x="1468" y="970"><tspan x="1468">四季を感じられる植物</tspan><tspan x="1468" dy="15.9">がある</tspan><tspan x="1468" dy="15.9">視覚・嗅覚</tspan><tspan x="1468" dy="15.9">子どもと植物の話がで</tspan><tspan x="1468" dy="15.9">きるな空間</tspan></text></g>
<g id="n99" class="note"><rect x="1274" y="1129" width="149" height="44"/><text class="t" x="1283" y="1147"><tspan x="1283">水飲み場(手を洗える</tspan><tspan x="1283" dy="15.9">所)が欲しい</tspan></text></g>
<g id="n100" class="note"><rect x="1444" y="1057" width="158" height="138"/><text class="t" x="1453" y="1075"><tspan x="1453">駅前に自由に無料で飲</tspan><tspan x="1453" dy="15.9">める水、お茶があると</tspan><tspan x="1453" dy="15.9">いいなと思います。べ</tspan><tspan x="1453" dy="15.9">ンチも増えたので人と</tspan><tspan x="1453" dy="15.9">の待ち合わせや、バス</tspan><tspan x="1453" dy="15.9">を待つ時間にちょっと</tspan><tspan x="1453" dy="15.9">休憩できてほっとでき</tspan><tspan x="1453" dy="15.9">ると思います</tspan></text></g>
<g id="n101" class="note"><rect x="1625" y="959" width="149" height="92"/><text class="t" x="1634" y="977"><tspan x="1634">ベンチプロジェクト</tspan><tspan x="1634" dy="15.9">×</tspan><tspan x="1634" dy="15.9">Art</tspan><tspan x="1634" dy="15.9">かわいいベンチがある</tspan><tspan x="1634" dy="15.9">街</tspan></text></g>
<g id="n102" class="note"><rect x="1774" y="1014" width="150" height="76"/><text class="t" x="1783" y="1032"><tspan x="1783">老若男女分け隔てなく</tspan><tspan x="1783" dy="15.9">集まる場所が有り、自</tspan><tspan x="1783" dy="15.9">然と健康についての意</tspan><tspan x="1783" dy="15.9">見交換ができる</tspan></text></g>
<g id="n103" class="note"><rect x="1619" y="1065" width="150" height="60"/><text class="t" x="1628" y="1083"><tspan x="1628">井戸端会議できるス</tspan><tspan x="1628" dy="15.9">ペース</tspan><tspan x="1628" dy="15.9">知り合いがいる</tspan></text></g>
<g id="n104" class="note"><rect x="1686" y="1149" width="149" height="75"/><text class="t" x="1695" y="1167"><tspan x="1695">駅の前で待ち合わせを</tspan><tspan x="1695" dy="15.9">する場所があるといい</tspan><tspan x="1695" dy="15.9">です(屋根つき)(トイレ</tspan><tspan x="1695" dy="15.9">つき)</tspan></text></g>
<g id="n105" class="note"><rect x="1849" y="1145" width="150" height="76"/><text class="t" x="1858" y="1163"><tspan x="1858">ベンチが多くあって、気</tspan><tspan x="1858" dy="15.9">軽に休んで話したり交</tspan><tspan x="1858" dy="15.9">流できる開放的な広場</tspan><tspan x="1858" dy="15.9">がある</tspan></text></g>
<g id="n106" class="note"><rect x="1280" y="1235" width="149" height="76"/><text class="t" x="1289" y="1253"><tspan x="1289">送迎の負担が少ないよ</tspan><tspan x="1289" dy="15.9">う、駅の周辺に子ども</tspan><tspan x="1289" dy="15.9">の習い事や塾などに通</tspan><tspan x="1289" dy="15.9">わせることができる</tspan></text></g>
<g id="n107" class="note"><rect x="1443" y="1245" width="157" height="60"/><text class="t" x="1452" y="1263"><tspan x="1452">子どもたちが気軽に集</tspan><tspan x="1452" dy="15.9">まって遊べる屋内多目</tspan><tspan x="1452" dy="15.9">的スペースがある</tspan></text></g>
</svg>
